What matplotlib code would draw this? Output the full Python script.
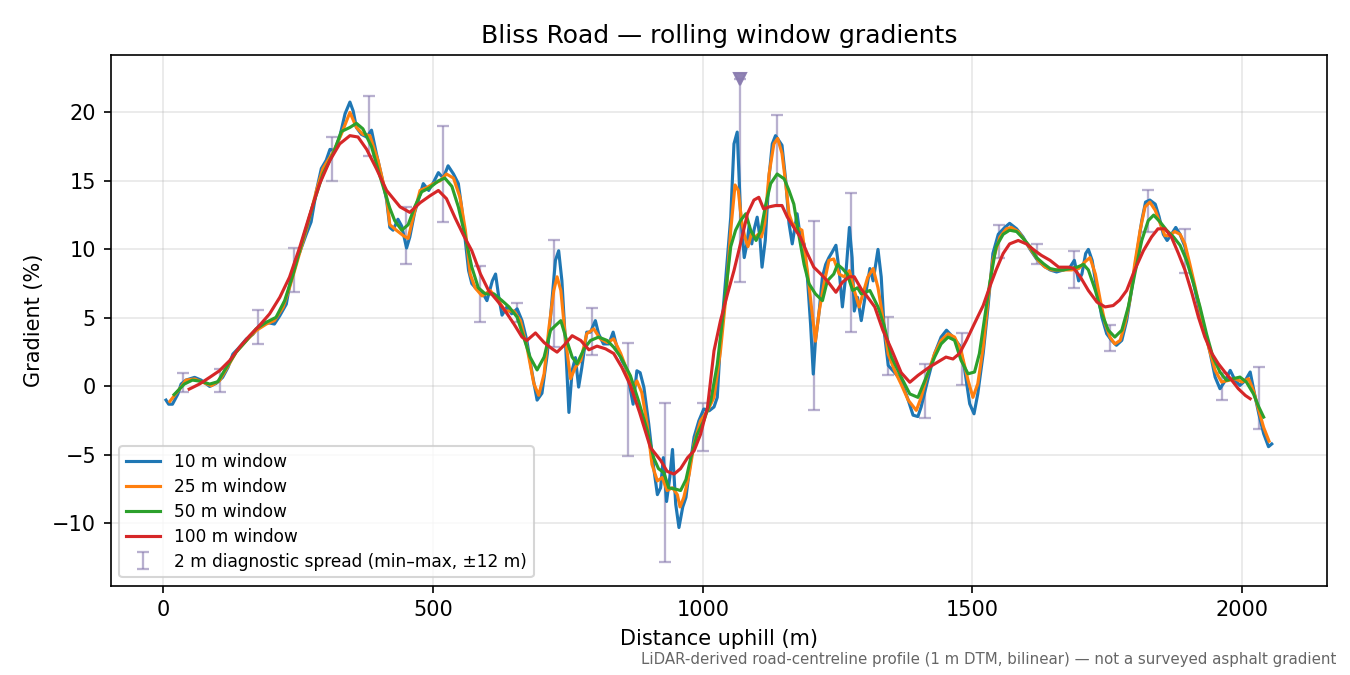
import matplotlib
matplotlib.use("Agg")
import matplotlib.pyplot as plt
import numpy as np

# --- rolling window gradients (distance m, gradient %) ---
DIST_10 = [5, 10, 17, 27, 33, 42, 58, 70, 86, 98, 110, 120, 129, 141, 154, 166, 178, 191, 206, 216,
           228, 237, 245, 253, 265, 274, 284, 293, 302, 309, 318, 327, 337, 346, 352, 358, 367, 377,
           386, 395, 405, 414, 420, 426, 435, 442, 451, 457, 466, 476, 482, 492, 501, 510, 519, 528,
           538, 547, 553, 560, 566, 572, 581, 591, 600, 610, 616, 622, 628, 637, 646, 656, 665, 674,
           684, 693, 702, 712, 721, 727, 733, 739, 746, 752, 758, 764, 770, 776, 785, 792, 801, 807,
           816, 826, 834, 841, 850, 857, 863, 871, 878, 884, 891, 900, 909, 916, 922, 927, 933, 939,
           944, 950, 956, 963, 969, 975, 984, 993, 1002, 1012, 1021, 1027, 1033, 1043, 1052, 1058,
           1064, 1070, 1077, 1082, 1086, 1091, 1095, 1101, 1106, 1110, 1116, 1123, 1129, 1135, 1141,
           1147, 1154, 1160, 1166, 1170, 1175, 1181, 1188, 1194, 1200, 1205, 1209, 1216, 1222, 1228,
           1234, 1240, 1247, 1253, 1259, 1265, 1272, 1277, 1281, 1287, 1294, 1300, 1310, 1316, 1325,
           1331, 1337, 1344, 1356, 1368, 1381, 1390, 1399, 1405, 1417, 1430, 1442, 1452, 1464, 1476,
           1485, 1495, 1503, 1510, 1520, 1529, 1538, 1548, 1560, 1569, 1582, 1594, 1607, 1619, 1632,
           1644, 1656, 1669, 1681, 1689, 1697, 1703, 1710, 1715, 1722, 1730, 1740, 1749, 1758, 1767,
           1777, 1786, 1795, 1805, 1814, 1821, 1829, 1839, 1846, 1854, 1861, 1869, 1877, 1885, 1894,
           1903, 1913, 1922, 1931, 1941, 1950, 1959, 1969, 1978, 1987, 1996, 2006, 2015, 2023, 2031,
           2040, 2049, 2055]
GRAD_10 = [-1.0, -1.3, -1.3, -0.56, 0.17, 0.46, 0.66, 0.46, 0.0, 0.22, 0.66, 1.39, 2.36, 2.85, 3.46,
           3.8, 4.43, 4.68, 4.55, 5.16, 6.0, 7.97, 9.2, 9.8, 11.1, 12.0, 14.3, 15.9, 16.5, 17.3, 17.2,
           18.2, 19.9, 20.75, 20.1, 18.9, 18.4, 18.2, 18.7, 17.0, 15.3, 13.6, 11.6, 11.4, 12.2, 11.7,
           10.1, 10.9, 12.7, 14.0, 14.8, 14.3, 14.9, 15.6, 15.2, 16.1, 15.5, 14.8, 13.1, 10.6, 8.45,
           7.5, 7.1, 6.9, 6.26, 7.7, 8.2, 6.5, 5.2, 5.8, 5.3, 5.66, 4.8, 3.35, 0.92, -1.0, -0.5, 2.4,
           6.5, 9.2, 9.9, 7.7, 2.9, -1.9, 1.17, 2.1, -0.05, 1.4, 3.96, 3.96, 4.8, 3.84, 3.1, 3.1,
           3.96, 2.86, 1.9, 1.39, 0.4, -1.3, 1.14, 1.0, -0.07, -2.75, -5.9, -7.9, -7.4, -5.2, -8.4,
           -6.65, -4.6, -8.6, -10.3, -8.8, -8.1, -6.2, -3.7, -2.5, -1.65, -1.78, -1.5, -0.8, 3.3, 8.0,
           12.35, 17.7, 18.56, 12.8, 9.4, 10.4, 11.7, 10.4, 11.4, 12.35, 10.9, 8.7, 10.65, 15.3, 17.7,
           18.3, 17.95, 17.6, 15.0, 11.9, 10.4, 11.4, 12.6, 10.9, 10.4, 8.0, 4.55, 0.9, 3.3, 5.5, 8.0,
           8.9, 9.4, 9.8, 10.3, 8.45, 5.8, 8.0, 11.6, 9.4, 5.5, 6.5, 4.8, 6.26, 8.6, 7.7, 10.0, 7.98,
           3.84, 1.53, 1.0, 0.44, -1.0, -2.1, -2.2, -1.5, 0.44, 2.4, 3.6, 4.1, 3.6, 3.0, 1.4, -1.27,
           -2.0, -0.54, 2.4, 5.8, 9.7, 11.1, 11.6, 11.9, 11.5, 10.9, 10.0, 9.3, 8.8, 8.5, 8.35, 8.5,
           8.7, 9.2, 7.7, 8.2, 9.7, 10.0, 9.2, 7.25, 5.06, 3.84, 3.36, 3.0, 3.36, 4.8, 7.0, 9.7, 12.1,
           13.45, 13.6, 13.3, 12.4, 11.1, 10.65, 11.1, 11.6, 11.1, 10.2, 8.7, 7.0, 5.3, 4.1, 2.4, 0.68,
           -0.17, 0.44, 1.17, 0.44, 0.07, 0.44, 1.05, -0.54, -2.0, -3.45, -4.4, -4.2]

DIST_25 = [12, 30, 42, 58, 73, 89, 104, 117, 135, 154, 172, 191, 206, 222, 234, 247, 265, 284, 296,
           315, 330, 346, 358, 370, 383, 398, 414, 420, 432, 445, 454, 463, 476, 488, 501, 513, 525,
           538, 550, 560, 569, 578, 591, 606, 619, 634, 650, 662, 674, 687, 696, 706, 715, 724, 730,
           737, 746, 755, 764, 774, 785, 798, 810, 823, 835, 848, 860, 869, 878, 887, 897, 906, 916,
           925, 934, 944, 953, 958, 965, 975, 984, 996, 1009, 1021, 1033, 1043, 1052, 1060, 1066,
           1072, 1078, 1084, 1090, 1097, 1103, 1109, 1115, 1123, 1132, 1139, 1147, 1154, 1160, 1166,
           1175, 1184, 1194, 1201, 1209, 1216, 1225, 1234, 1243, 1253, 1262, 1272, 1281, 1290, 1306,
           1316, 1325, 1334, 1344, 1356, 1368, 1381, 1396, 1405, 1417, 1430, 1442, 1455, 1467, 1479,
           1492, 1501, 1510, 1520, 1529, 1538, 1551, 1563, 1572, 1585, 1597, 1610, 1622, 1635, 1647,
           1660, 1672, 1684, 1697, 1709, 1718, 1728, 1737, 1746, 1755, 1764, 1774, 1783, 1792, 1801,
           1811, 1820, 1829, 1839, 1848, 1857, 1866, 1875, 1885, 1894, 1903, 1913, 1925, 1938, 1950,
           1962, 1975, 1987, 2000, 2012, 2021, 2031, 2040, 2050]
GRAD_25 = [-1.1, -0.2, 0.46, 0.54, 0.3, 0.05, 0.41, 1.27, 2.5, 3.34, 4.07, 4.55, 4.8, 5.77, 7.2, 8.94,
           11.4, 14.3, 15.9, 17.1, 18.4, 20.0, 18.9, 18.4, 18.3, 16.5, 13.8, 11.8, 11.4, 11.0, 10.8,
           12.3, 14.3, 14.5, 14.8, 15.0, 15.5, 15.2, 13.8, 11.4, 8.2, 7.2, 6.6, 7.0, 6.4, 5.5, 5.5,
           4.8, 2.9, 0.2, -0.65, 0.92, 4.3, 7.0, 8.0, 7.0, 3.35, 0.56, 1.4, 1.9, 3.84, 4.2, 3.47, 3.2,
           3.47, 2.4, 1.14, -0.3, 0.4, -0.44, -2.75, -5.7, -6.9, -6.65, -7.6, -7.4, -7.9, -8.8, -8.1,
           -6.4, -4.2, -2.5, -1.78, -0.8, 2.6, 6.5, 11.4, 14.7, 14.3, 12.1, 10.9, 10.2, 11.1, 10.9,
           11.1, 10.9, 11.9, 15.5, 17.7, 18.1, 17.0, 14.8, 12.6, 11.9, 11.6, 11.4, 8.45, 6.0, 3.3, 5.5,
           7.5, 9.2, 9.3, 8.2, 8.0, 8.45, 7.0, 5.8, 7.98, 8.6, 7.2, 5.0, 2.36, 1.14, 0.15, -1.0, -1.75,
           -0.8, 0.92, 2.4, 3.36, 3.84, 3.6, 2.6, 0.44, -0.8, 0.2, 2.87, 6.3, 9.2, 10.9, 11.5, 11.6,
           11.3, 10.65, 9.9, 9.2, 8.7, 8.5, 8.5, 8.5, 8.5, 8.6, 9.1, 9.4, 8.2, 6.3, 4.6, 3.6, 3.1,
           3.36, 4.6, 6.3, 8.95, 11.4, 13.1, 13.45, 12.85, 11.9, 11.0, 11.0, 11.3, 11.1, 10.4, 8.95,
           7.25, 5.06, 2.87, 1.17, 0.32, 0.44, 0.56, 0.32, 0.56, -0.3, -1.75, -3.0, -4.0]

DIST_50 = [20, 39, 54, 70, 86, 101, 117, 135, 154, 172, 191, 209, 225, 240, 259, 278, 296, 315, 330,
           346, 358, 370, 386, 402, 420, 429, 442, 454, 466, 479, 494, 510, 522, 535, 547, 560, 572,
           584, 597, 613, 628, 641, 656, 668, 680, 693, 706, 718, 727, 737, 746, 758, 767, 780, 792,
           807, 823, 835, 848, 866, 881, 897, 909, 918, 928, 937, 950, 959, 969, 978, 990, 1002, 1015,
           1027, 1040, 1052, 1061, 1070, 1080, 1089, 1099, 1108, 1117, 1126, 1138, 1151, 1160, 1169,
           1178, 1188, 1197, 1209, 1222, 1231, 1243, 1250, 1259, 1268, 1278, 1287, 1294, 1310, 1325,
           1337, 1350, 1368, 1384, 1399, 1417, 1430, 1442, 1455, 1467, 1479, 1492, 1504, 1513, 1522,
           1532, 1544, 1557, 1569, 1582, 1594, 1607, 1619, 1632, 1644, 1656, 1669, 1681, 1694, 1706,
           1715, 1728, 1740, 1752, 1764, 1777, 1789, 1801, 1814, 1826, 1836, 1848, 1860, 1873, 1885,
           1897, 1910, 1922, 1934, 1946, 1959, 1971, 1983, 1996, 2008, 2021, 2031, 2040]
GRAD_50 = [-0.6, 0.17, 0.46, 0.37, 0.17, 0.34, 1.39, 2.5, 3.34, 4.2, 4.68, 5.04, 6.26, 8.1, 10.77,
           13.3, 15.5, 17.0, 18.6, 18.9, 19.2, 18.8, 17.5, 15.3, 13.0, 12.1, 11.4, 11.8, 13.1, 14.2,
           14.5, 15.0, 15.2, 14.6, 13.1, 10.9, 8.7, 7.2, 6.75, 6.75, 6.26, 5.8, 5.05, 3.6, 2.14, 1.2,
           2.14, 4.1, 4.44, 4.8, 3.6, 2.14, 1.65, 2.74, 3.35, 3.6, 3.35, 2.86, 2.14, 0.78, -1.05,
           -3.2, -5.2, -6.0, -6.3, -7.4, -7.5, -7.6, -6.8, -5.2, -3.5, -2.5, -1.05, 1.6, 6.0, 10.2,
           11.4, 12.1, 12.6, 11.4, 10.65, 11.4, 13.3, 14.8, 15.5, 15.15, 14.3, 13.3, 11.1, 8.9, 7.5,
           6.75, 6.26, 7.7, 8.2, 8.9, 8.6, 8.2, 7.0, 7.2, 6.75, 7.0, 5.8, 4.35, 2.14, 0.68, -0.55,
           -0.8, 0.92, 2.14, 3.1, 3.6, 3.36, 1.9, 0.92, 1.05, 2.4, 4.8, 7.5, 10.2, 11.1, 11.4, 11.3,
           10.8, 10.2, 9.4, 8.95, 8.6, 8.5, 8.5, 8.6, 8.7, 8.9, 8.5, 7.0, 5.3, 4.1, 3.6, 4.1, 5.8,
           8.2, 10.65, 12.1, 12.5, 12.0, 11.4, 10.9, 10.3, 9.2, 7.5, 5.8, 3.84, 2.14, 1.05, 0.44,
           0.56, 0.68, 0.32, -0.54, -1.5, -2.24]

DIST_100 = [48, 67, 86, 104, 123, 141, 160, 178, 197, 216, 234, 253, 271, 290, 309, 327, 346, 361,
            377, 395, 414, 439, 457, 476, 494, 510, 525, 541, 557, 572, 588, 603, 619, 634, 650, 665,
            674, 690, 706, 721, 730, 743, 758, 774, 789, 804, 820, 835, 850, 866, 883, 903, 922, 934,
            947, 959, 972, 984, 996, 1009, 1021, 1033, 1046, 1058, 1070, 1083, 1095, 1104, 1113, 1123,
            1135, 1147, 1157, 1169, 1181, 1194, 1206, 1219, 1231, 1247, 1259, 1272, 1281, 1294, 1306,
            1319, 1334, 1350, 1368, 1384, 1399, 1420, 1436, 1451, 1464, 1476, 1489, 1504, 1520, 1532,
            1544, 1557, 1569, 1585, 1600, 1616, 1628, 1644, 1660, 1679, 1688, 1700, 1715, 1731, 1746,
            1761, 1773, 1786, 1801, 1817, 1832, 1844, 1857, 1869, 1882, 1894, 1907, 1919, 1931, 1944,
            1956, 1968, 1981, 1993, 2006, 2015]
GRAD_100 = [-0.2, 0.17, 0.66, 1.14, 1.88, 2.85, 3.7, 4.43, 5.29, 6.5, 7.97, 10.16, 12.47, 14.8,
            16.5, 17.7, 18.3, 18.2, 17.3, 15.9, 14.3, 13.1, 12.7, 13.4, 13.9, 14.3, 13.7, 12.3, 11.0,
            9.9, 8.2, 7.0, 6.26, 5.5, 4.56, 3.6, 3.35, 3.9, 3.2, 2.74, 2.5, 3.0, 3.7, 3.35, 2.67, 2.94,
            2.74, 2.4, 1.4, 0.07, -1.9, -4.46, -5.4, -6.2, -6.4, -6.0, -5.2, -4.7, -3.5, -1.5, 2.6,
            4.8, 6.75, 8.45, 10.4, 12.6, 13.6, 13.8, 12.95, 13.1, 13.2, 13.2, 12.35, 11.6, 10.9, 9.7,
            8.7, 8.2, 7.7, 6.87, 7.6, 8.0, 8.0, 7.1, 6.5, 5.8, 4.1, 2.7, 1.0, 0.3, 0.8, 1.4, 1.78,
            2.14, 2.0, 2.4, 3.36, 4.6, 5.9, 7.25, 8.5, 9.7, 10.4, 10.65, 10.4, 9.9, 9.56, 9.2, 8.7,
            8.7, 8.6, 8.0, 7.0, 6.15, 5.8, 5.9, 6.3, 7.0, 8.5, 9.9, 10.9, 11.5, 11.5, 10.9, 9.7, 8.5,
            6.8, 5.06, 3.6, 2.4, 1.65, 1.05, 0.44, -0.17, -0.66, -0.9]

# --- 2 m diagnostic spread: min/max of 2 m gradient within +-12 m ---
SPREAD_DIST = [37, 106, 175, 243, 312, 381, 450, 519, 587, 656, 725, 794, 862, 931, 1000, 1069,
               1137, 1206, 1275, 1344, 1413, 1481, 1550, 1619, 1688, 1756, 1825, 1894, 1963, 2032]
SPREAD_MIN = [-0.4, -0.4, 3.1, 6.9, 15.0, 16.8, 8.9, 12.0, 4.7, 4.7, 2.9, 2.3, -5.1, -12.8, -4.7,
              7.6, 13.2, -1.7, 4.0, 0.8, -2.3, 0.1, 9.4, 8.9, 7.2, 2.6, 11.3, 8.3, -1.0, -3.1]
SPREAD_MAX = [1.0, 1.3, 5.6, 10.1, 18.2, 21.2, 13.1, 19.0, 8.8, 6.1, 10.7, 5.7, 3.2, -1.2, -1.2,
              22.4, 19.8, 12.1, 14.1, 5.1, 1.6, 3.9, 11.8, 10.4, 9.9, 4.5, 14.3, 11.5, 1.0, 1.4]
SPREAD_CLIP = 22.4

WINDOWS = [
    ("10 m window", DIST_10, GRAD_10, "#1f77b4"),
    ("25 m window", DIST_25, GRAD_25, "#ff7f0e"),
    ("50 m window", DIST_50, GRAD_50, "#2ca02c"),
    ("100 m window", DIST_100, GRAD_100, "#d62728"),
]


def main():
    fig, ax = plt.subplots(figsize=(9, 4.5), dpi=150)
    fig.subplots_adjust(left=0.082, right=0.983, top=0.918, bottom=0.132)

    for label, dist, grad, color in WINDOWS:
        ax.plot(dist, grad, color=color, linewidth=1.5, label=label)

    lo = np.array(SPREAD_MIN)
    hi = np.array(SPREAD_MAX)
    ax.errorbar(SPREAD_DIST, lo, yerr=[np.zeros_like(lo), hi - lo], fmt="none",
                ecolor="#8a7cb0", elinewidth=1.1, capsize=3, capthick=1.1, alpha=0.6,
                label="2 m diagnostic spread (min\u2013max, \u00b112 m)", zorder=1)
    # spreads that run off the top get a marker at the clip value
    clipped = [d for d, h in zip(SPREAD_DIST, SPREAD_MAX) if h >= SPREAD_CLIP]
    ax.plot(clipped, [SPREAD_CLIP] * len(clipped), "v", color="#8a7cb0", markersize=6,
            alpha=0.95, zorder=3)

    ax.set_xlabel("Distance uphill (m)")
    ax.set_ylabel("Gradient (%)")
    ax.set_title("Bliss Road \u2014 rolling window gradients")
    ax.grid(True, alpha=0.3)
    ax.legend(loc="lower left", fontsize=8.2, labelspacing=0.4)

    fig.text(0.99, 0.012,
             "LiDAR-derived road-centreline profile (1 m DTM, bilinear) \u2014 not a surveyed asphalt gradient",
             ha="right", va="bottom", fontsize=7.2, color="#666666")

    fig.savefig("out.png", dpi=150)
    plt.close(fig)


if __name__ == "__main__":
    main()
